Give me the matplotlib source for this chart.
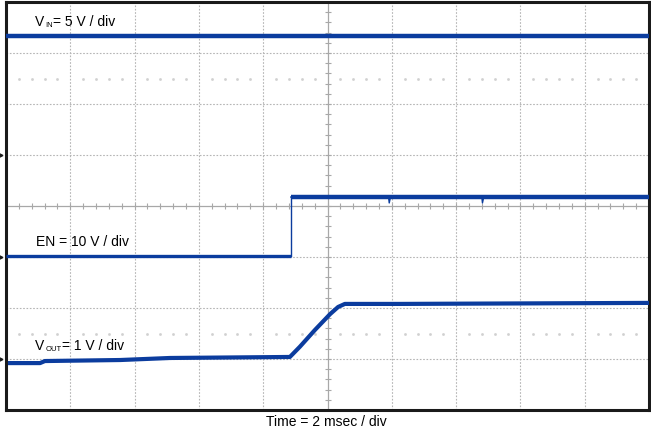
import numpy as np
import matplotlib
matplotlib.use("Agg")
import matplotlib.pyplot as plt

plt.rcParams['font.family'] = ['Liberation Sans', 'DejaVu Sans']

# scope settings: time in msec, 10 x 8 divisions
ms_per_div = 2
n_xdiv, n_ydiv = 10, 8

# channel scales (V/div) and ground marker positions (div from bottom)
vin_scale, vin_gnd = 5, 5
en_scale, en_gnd = 10, 3
vout_scale, vout_gnd = 1, 1

# traces (time ms, volts)
vin_t = [0.0, 20.0]
vin_v = [11.67, 11.67]

en_t = [0.0, 8.86, 8.86, 11.90, 11.92, 11.96, 14.80, 14.82, 14.86, 20.0]
en_v = [0.2, 0.2, 11.76, 11.76, 10.6, 11.76, 11.76, 10.6, 11.76, 11.76]

vout_t = [0.06, 1.06, 1.21, 3.55, 5.10, 8.83, 9.14, 9.61, 10.08, 10.33, 10.54, 12.25, 20.0]
vout_v = [-0.08, -0.08, -0.04, -0.02, 0.02, 0.04, 0.24, 0.57, 0.88, 1.02, 1.08, 1.08, 1.10]

trace_col = '#0b3c9e'
W, H = 651, 428


def to_div(v, scale, gnd):
    return gnd + np.asarray(v) / scale


def px_text(x, y, s, size=10, **kw):
    # place text using pixel coords measured from the top-left of the image
    fig.text(x / W, 1 - y / H, s, fontsize=size, va='baseline', **kw)


fig = plt.figure(figsize=(W / 100, H / 100), dpi=100)
ax = fig.add_axes([6 / W, 18 / H, 643 / W, 408 / H])
ax.set_xlim(0, n_xdiv * ms_per_div)
ax.set_ylim(0, n_ydiv)
ax.set_xticks([])
ax.set_yticks([])
for s in ax.spines.values():
    s.set_linewidth(2.2)
    s.set_color('#1a1a1a')

# graticule
grid_kw = dict(color='#b5b5b5', lw=0.8, ls=(0, (1.5, 1.5)), zorder=1)
for k in range(1, n_xdiv):
    if k != n_xdiv // 2:
        ax.axvline(k * ms_per_div, **grid_kw)
for k in range(1, n_ydiv):
    if k != n_ydiv // 2:
        ax.axhline(k, **grid_kw)
xc, yc = n_xdiv * ms_per_div / 2, n_ydiv / 2
ax.axvline(xc, color='#a8a8a8', lw=0.9, zorder=1)
ax.axhline(yc, color='#a8a8a8', lw=0.9, zorder=1)

# minor ticks on the centre cross
sub_x = np.arange(0, n_xdiv * ms_per_div + 0.01, ms_per_div / 5)
sub_y = np.arange(0, n_ydiv + 0.01, 0.2)
ax.plot(sub_x, np.full_like(sub_x, yc), ls='none', marker='|', ms=5, mew=0.8, color='#a8a8a8', zorder=1)
ax.plot(np.full_like(sub_y, xc), sub_y, ls='none', marker='_', ms=5, mew=0.8, color='#a8a8a8', zorder=1)

# faint dotted rows at half divisions
for yy in [6.5, 1.5]:
    dots = [x for x in sub_x if abs(x / ms_per_div - round(x / ms_per_div)) > 1e-6]
    ax.plot(dots, np.full(len(dots), yy), ls='none', marker='s', ms=0.9, color='#d0d0d0', zorder=1)

# traces
ax.plot(vin_t, to_div(vin_v, vin_scale, vin_gnd), color=trace_col, lw=3.2, solid_capstyle='butt', zorder=3)

en_y = to_div(en_v, en_scale, en_gnd)
ax.plot(en_t[:2], en_y[:2], color=trace_col, lw=2.4, solid_capstyle='butt', zorder=3)
ax.plot(en_t[1:3], en_y[1:3], color=trace_col, lw=1.0, zorder=3)
ax.plot(en_t[2:], en_y[2:], color=trace_col, lw=1.0, zorder=3)
ax.plot([en_t[2], en_t[-1]], [en_y[2], en_y[-1]], color=trace_col, lw=3.2, solid_capstyle='butt', zorder=3)

ax.plot(vout_t, to_div(vout_v, vout_scale, vout_gnd), color=trace_col, lw=3.0,
        solid_capstyle='butt', solid_joinstyle='round', zorder=3)

# ground markers at left edge
for g in [vin_gnd, en_gnd, vout_gnd]:
    ax.plot([-0.18], [g], marker='>', ms=3.5, color='#1a1a1a', clip_on=False, zorder=5)

# labels
px_text(35, 26, 'V')
px_text(45.5, 27, 'IN', size=5.5)
px_text(53, 26, '= 5 V / div')
px_text(36, 246, 'EN = 10 V / div')
px_text(35, 350, 'V')
px_text(45.5, 351, 'OUT', size=5.5)
px_text(62, 350, '= 1 V / div')
px_text(326, 426, 'Time = 2 msec / div', ha='center')

fig.savefig('out.png', dpi=100)
